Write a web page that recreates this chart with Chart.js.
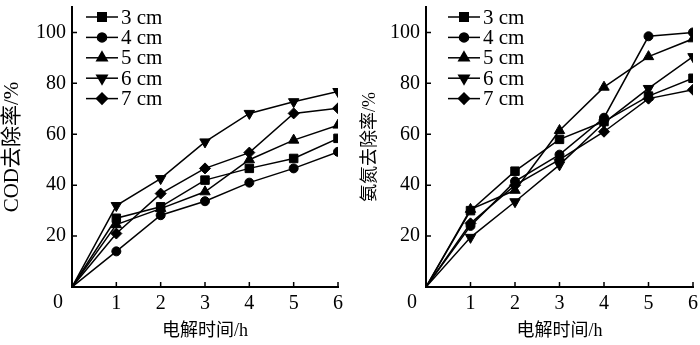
<!DOCTYPE html>
<html>
<head>
<meta charset="utf-8">
<script src="https://cdn.jsdelivr.net/npm/chart.js@4/dist/chart.umd.min.js"></script>
<style>
  html, body { margin: 0; padding: 0; background: #fff; }
  #wrap { position: relative; width: 700px; height: 345px; }
  .box { position: absolute; top: 0; width: 350px; height: 345px; }
</style>
</head>
<body>
<div id="wrap">
  <div class="box" style="left:0"><canvas id="codChart"></canvas></div>
  <div class="box" style="left:350px"><canvas id="nh3Chart"></canvas></div>
</div>
<script>
// data
const hours = [0, 1, 2, 3, 4, 5, 6];
const seriesLabels = ['3 cm', '4 cm', '5 cm', '6 cm', '7 cm'];
const yTicks = [20, 40, 60, 80, 100];

// COD removal (%)
const cod3 = [0, 27, 31.5, 42, 46.6, 50.5, 58.4];
const cod4 = [0, 14, 28.2, 33.7, 41, 46.6, 53.1];
const cod5 = [0, 24.5, 30.8, 37.4, 50, 57.7, 63.6];
const cod6 = [0, 32, 42.6, 57, 68.2, 72.8, 76.8];
const cod7 = [0, 21, 36.7, 46.6, 52.8, 68.2, 70.2];

// ammonia nitrogen removal (%)
const nh3 = [0, 30, 45.5, 58, 65, 75, 82];
const nh4 = [0, 24, 41.5, 52, 66.5, 98.5, 100];
const nh5 = [0, 30.5, 38, 61.5, 78.5, 90.5, 97.5];
const nh6 = [0, 19.5, 33.5, 48, 64.5, 78, 90.5];
const nh7 = [0, 25, 40, 50, 61, 74, 77.5];

const markers = [
    { pointStyle: 'rect', rotation: 0, radius: 6 },
    { pointStyle: 'circle', rotation: 0, radius: 4.5 },
    { pointStyle: 'triangle', rotation: 0, radius: 6 },
    { pointStyle: 'triangle', rotation: 180, radius: 6 },
    { pointStyle: 'rectRot', rotation: 0, radius: 5.5 }
];

const serif = "'Liberation Serif', 'Noto Sans CJK SC', serif";

// inward ticks, shared corner zero and the in-plot legend
const framePlugin = {
    id: 'frame',
    afterDraw(chart) {
        const ctx = chart.ctx;
        const area = chart.chartArea;
        const xs = chart.scales.x;
        const ys = chart.scales.y;
        const cfg = chart.options.plugins.frame;
        ctx.save();
        ctx.strokeStyle = '#000';
        ctx.lineWidth = 1.5;
        ctx.beginPath();
        hours.slice(1).forEach(h => {
            const px = xs.getPixelForValue(h);
            ctx.moveTo(px, area.bottom);
            ctx.lineTo(px, area.bottom - 5);
        });
        yTicks.forEach(v => {
            const py = ys.getPixelForValue(v);
            ctx.moveTo(area.left, py);
            ctx.lineTo(area.left + 5, py);
        });
        ctx.stroke();

        ctx.fillStyle = '#000';
        ctx.font = '20px ' + serif;
        ctx.textAlign = 'center';
        ctx.textBaseline = 'middle';
        ctx.fillText('0', area.left - 14, area.bottom + 16);

        // legend
        ctx.font = '21px ' + serif;
        ctx.textAlign = 'left';
        chart.data.datasets.forEach((ds, i) => {
            const y = area.top + 10 + i * 20.4;
            const x0 = area.left + cfg.lineStart;
            const x1 = area.left + cfg.lineEnd;
            ctx.lineWidth = 1.5;
            ctx.beginPath();
            ctx.moveTo(x0, y);
            ctx.lineTo(x1, y);
            ctx.stroke();
            Chart.helpers.drawPoint(ctx, {
                pointStyle: markers[i].pointStyle,
                rotation: markers[i].rotation,
                radius: markers[i].radius,
                borderWidth: 1
            }, (x0 + x1) / 2, y);
            ctx.fillText(ds.label, area.left + cfg.textStart, y + 1);
        });
        ctx.restore();
    }
};

function makeChart(id, yTitle, seriesList, setup) {
    const datasets = seriesList.map((vals, i) => ({
        label: seriesLabels[i],
        data: hours.map((h, j) => ({ x: h, y: vals[j] })),
        borderColor: '#000',
        backgroundColor: '#000',
        borderWidth: 1.5,
        pointStyle: markers[i].pointStyle,
        rotation: markers[i].rotation,
        pointRadius: c => c.dataIndex === 0 ? 0 : markers[i].radius,
        pointBorderWidth: 1,
        tension: 0
    }));

    return new Chart(document.getElementById(id), {
        type: 'line',
        data: { datasets: datasets },
        options: {
            responsive: true,
            maintainAspectRatio: false,
            animation: false,
            layout: { padding: { top: 6, right: setup.right, left: 0, bottom: 0 } },
            plugins: {
                legend: { display: false },
                tooltip: { enabled: false },
                frame: setup.legend
            },
            scales: {
                x: {
                    type: 'linear',
                    min: 0,
                    max: 6,
                    grid: { display: true, drawOnChartArea: false, drawTicks: false },
                    border: { color: '#000', width: 2 },
                    ticks: {
                        stepSize: 1,
                        color: '#000',
                        padding: 5,
                        font: { family: serif, size: 20 },
                        callback: v => v === 0 ? '' : v
                    },
                    title: {
                        display: true,
                        text: '电解时间/h',
                        color: '#000',
                        font: { family: serif, size: 18 },
                        padding: { top: 0, bottom: 3 }
                    },
                    afterFit: s => {
                        s.height = 58;
                        s.paddingLeft = 0;
                        s.paddingRight = 0;
                    }
                },
                y: {
                    min: 0,
                    max: 110,
                    grid: { display: true, drawOnChartArea: false, drawTicks: false },
                    border: { color: '#000', width: 2 },
                    ticks: {
                        stepSize: 20,
                        includeBounds: false,
                        color: '#000',
                        padding: 6,
                        font: { family: serif, size: 20 },
                        callback: v => v === 0 ? '' : v
                    },
                    title: {
                        display: true,
                        text: yTitle,
                        color: '#000',
                        font: { family: serif, size: setup.titleSize },
                        padding: { top: setup.titlePad, bottom: 0 }
                    },
                    afterFit: s => {
                        s.width = setup.axisWidth;
                        s.paddingTop = 0;
                        s.paddingBottom = 0;
                    }
                }
            }
        },
        plugins: [framePlugin]
    });
}

makeChart('codChart', 'COD去除率/%', [cod3, cod4, cod5, cod6, cod7], {
    right: 12, axisWidth: 72, titleSize: 21, titlePad: 0,
    legend: { lineStart: 14, lineEnd: 46, textStart: 49 }
});

makeChart('nh3Chart', '氨氮去除率/%', [nh3, nh4, nh5, nh6, nh7], {
    right: 7, axisWidth: 76, titleSize: 18, titlePad: 9,
    legend: { lineStart: 22, lineEnd: 54, textStart: 57 }
});
</script>
</body>
</html>
